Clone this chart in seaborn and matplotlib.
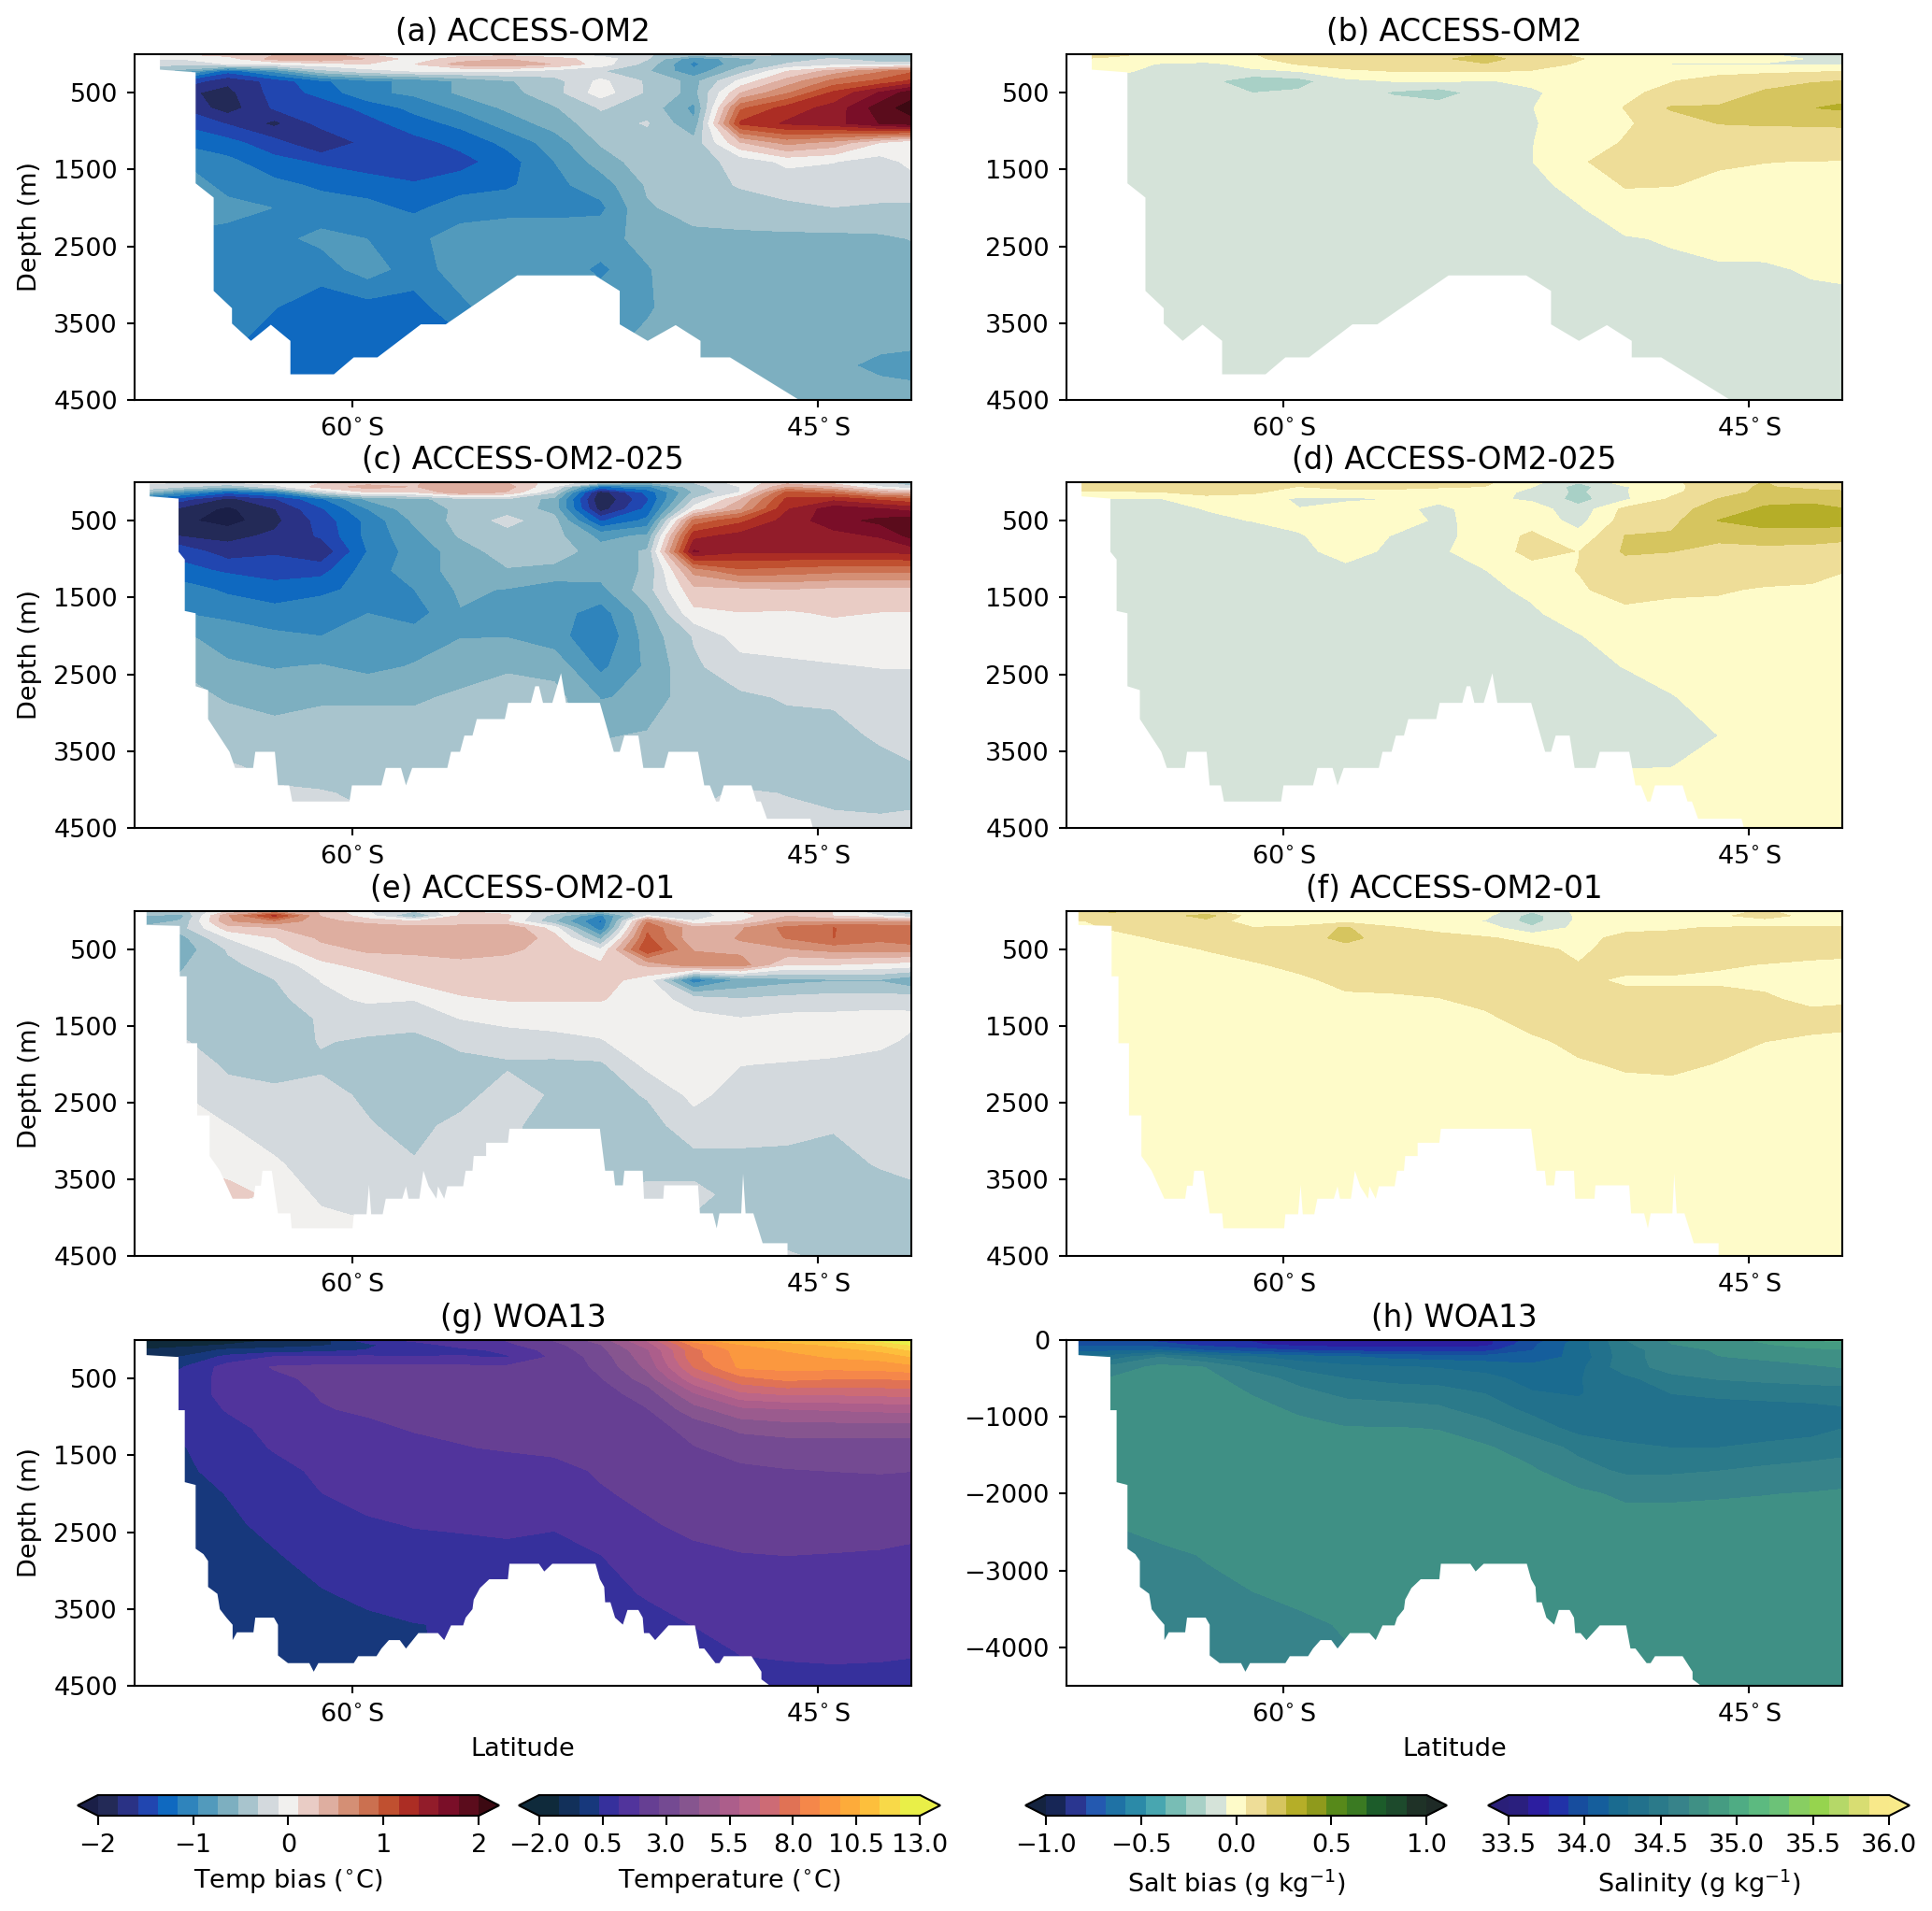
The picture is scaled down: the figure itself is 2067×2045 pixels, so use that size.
import numpy as np
import seaborn as sns
import matplotlib
matplotlib.use("Agg")
import matplotlib.pyplot as plt
from matplotlib.colors import BoundaryNorm, ListedColormap

sns.set_theme(style="ticks", rc={
    "font.family": "DejaVu Sans",
    "text.color": "black",
    "axes.labelcolor": "black",
    "axes.edgecolor": "black",
    "xtick.color": "black",
    "ytick.color": "black",
    "axes.linewidth": 1.5,
    "xtick.major.width": 1.5,
    "ytick.major.width": 1.5,
    "xtick.major.size": 6,
    "ytick.major.size": 6,
    "mathtext.default": "regular",
})

lat_nodes = [-67, -65.5, -64, -62.5, -61, -59.5, -58, -56.5, -55, -53.5, -52, -50.5, -49, -47.5, -46, -44.5, -43, -42]
depth_nodes = [0, 60, 130, 220, 350, 500, 700, 900, 1150, 1400, 1700, 2000, 2400, 2800, 3300, 3700, 4050, 4500]

temp_bias_a = [
    [0, .1, .2, .3, .4, .1, 0, 0, 0, -.1, -.2, -.3, -.4, -.2, -.3, -.4, -.5, -.5],
    [-.1, -.1, 0, .4, .5, .3, 0, .2, .3, .2, 0, -.3, -.9, -.6, -.4, -.3, -.5, -.5],
    [-.2, -.3, -.1, -.1, 0, .1, .1, .4, .5, .3, 0, -.4, -1.0, -.6, -.3, -.2, -.2, -.2],
    [-.4, -.6, -1.3, -.9, -.4, -.2, -.1, -.1, -.1, -.2, -.3, -.5, -.9, -.4, .1, .4, .7, .9],
    [-1.2, -1.4, -1.75, -1.5, -1.2, -1.0, -.9, -.7, -.55, -.4, -.05, -.35, -.6, -.05, .4, .8, 1.0, 1.2],
    [-1.7, -1.75, -1.85, -1.5, -1.3, -1.0, -.9, -.7, -.6, -.4, 0, -.35, -.6, .3, .7, 1.2, 1.6, 1.9],
    [-1.5, -1.6, -1.9, -1.55, -1.5, -1.3, -1.1, -.9, -.7, -.55, -.3, -.4, -.8, .9, 1.25, 1.45, 1.9, 2.1],
    [-1.3, -1.4, -1.6, -1.85, -1.5, -1.45, -1.25, -1.1, -.85, -.65, -.4, -.3, -.7, 1.2, 1.4, 1.5, 1.8, 1.9],
    [-1.1, -1.2, -1.3, -1.5, -1.8, -1.5, -1.45, -1.3, -1.1, -.85, -.5, -.4, -.45, .3, .6, .45, .1, -.1],
    [-.9, -.95, -1.1, -1.3, -1.4, -1.5, -1.5, -1.45, -1.25, -.95, -.65, -.4, -.4, -.25, -.05, -.1, -.2, -.05],
    [-.8, -.85, -1.0, -1.1, -1.2, -1.25, -1.35, -1.25, -1.2, -1.0, -.85, -.5, -.4, -.3, -.25, -.2, -.2, -.2],
    [-.75, -.8, -.9, -.95, -1.05, -1.1, -1.2, -1.05, -1.0, -1.0, -1.0, -.55, -.45, -.4, -.35, -.32, -.35, -.35],
    [-1.0, -1.0, -1.0, -1.0, -.9, -.95, -1.0, -.85, -.85, -.85, -.8, -.68, -.58, -.58, -.58, -.58, -.56, -.52],
    [-1.05, -1.05, -1.05, -1.05, -1.05, -.85, -1.05, -.85, -.85, -.8, -1.0, -.75, -.62, -.6, -.6, -.6, -.6, -.6],
    [-1.1, -1.1, -1.1, -1.15, -1.3, -1.25, -1.25, -1.0, -.8, -.8, -.8, -.76, -.62, -.6, -.6, -.6, -.6, -.6],
    [-1.1, -1.1, -1.1, -1.25, -1.3, -1.3, -1.3, -1.2, -.9, -.8, -.8, -.7, -.62, -.6, -.6, -.62, -.65, -.65],
    [-1.2, -1.2, -1.2, -1.3, -1.3, -1.3, -1.3, -1.2, -.9, -.8, -.8, -.7, -.62, -.6, -.6, -.68, -.8, -.85],
    [-1.2, -1.2, -1.2, -1.3, -1.3, -1.3, -1.3, -1.2, -.9, -.8, -.8, -.7, -.62, -.6, -.6, -.6, -.6, -.6],
]

temp_bias_c = [
    [0, -.1, -.1, 0, .1, .2, .3, .4, .3, 0, -.2, -.5, -.3, 0, .2, 0, -.3, -.4],
    [-.2, -.3, -.5, -.2, .2, .4, .3, .5, .4, -.1, -1.2, -1.0, -.4, -.1, .5, .3, -.1, -.3],
    [-.4, -.9, -1.3, -1.1, -.3, .1, .1, .5, .3, -.3, -1.9, -1.3, -.5, -.1, 1.0, .8, .4, .3],
    [-1.2, -1.5, -1.85, -1.6, -1.2, -.7, -.6, -.4, -.35, -.6, -2.0, -1.4, -.3, .3, 1.2, 1.3, 1.1, 1.0],
    [-1.7, -1.85, -2.05, -1.8, -1.4, -.95, -.6, -.5, -.4, -.6, -1.9, -1.3, 0, .5, 1.35, 1.7, 1.6, 1.5],
    [-1.9, -1.95, -2.1, -1.85, -1.5, -1.1, -.7, -.45, -.25, -.45, -1.4, -1.1, .8, 1.1, 1.45, 1.7, 1.85, 1.9],
    [-1.6, -1.8, -1.85, -1.75, -1.55, -1.1, -.8, -.5, -.4, -.45, -.8, -.7, 1.3, 1.45, 1.4, 1.5, 1.6, 1.85],
    [-1.3, -1.45, -1.7, -1.6, -1.75, -1.15, -.85, -.65, -.4, -.4, -.65, -.5, 1.6, 1.4, 1.4, 1.4, 1.4, 1.45],
    [-1.1, -1.3, -1.4, -1.5, -1.45, -1.05, -.85, -.65, -.55, -.6, -.65, -.5, .6, .9, .85, .8, .8, .8],
    [-.95, -1.05, -1.2, -1.25, -1.2, -1.1, -.95, -.7, -.75, -.85, -.8, -.4, .25, .25, .3, .25, .25, .25],
    [-.85, -.95, -1.0, -1.1, -1.05, -.95, -1.05, -.75, -.75, -.85, -1.05, -.6, .05, .1, .08, .13, .1, .1],
    [-.6, -.7, -.85, -.9, -.95, -.85, -.85, -.75, -.75, -.85, -1.15, -.65, -.3, 0, 0, 0, 0, 0],
    [-.5, -.55, -.7, -.75, -.72, -.8, -.72, -.6, -.55, -.6, -1.0, -.7, -.35, -.2, -.15, -.12, -.1, -.1],
    [-.4, -.45, -.55, -.6, -.55, -.55, -.55, -.5, -.45, -.45, -.75, -.7, -.35, -.35, -.3, -.3, -.2, -.2],
    [-.35, -.33, -.4, -.45, -.45, -.45, -.45, -.42, -.4, -.5, -.55, -.5, -.4, -.38, -.38, -.35, -.3, -.25],
    [-.3, -.3, -.3, -.35, -.42, -.42, -.42, -.4, -.4, -.4, -.4, -.4, -.4, -.4, -.4, -.37, -.35, -.33],
    [-.3, -.3, -.3, -.3, -.3, -.35, -.35, -.35, -.35, -.35, -.35, -.35, -.35, -.3, -.32, -.35, -.37, -.35],
    [-.28, -.28, -.28, -.28, -.28, -.28, -.28, -.28, -.28, -.28, -.28, -.28, -.28, -.28, -.28, -.28, -.28, -.28],
]

temp_bias_e = [
    [-.3, -.4, .1, .5, .3, -.1, -.3, .1, 0, -.2, -.5, -.2, -.2, .1, .3, .1, -.3, -.4],
    [-.5, -.6, .5, 1.2, .3, 0, -.6, .15, .15, -.4, -1.0, -.1, -.2, 0, .3, .1, -.1, -.3],
    [-.7, -.5, .5, .7, .4, .2, .1, .2, .1, -.5, -1.2, .7, -.1, .1, .5, .5, .5, .5],
    [-.5, -.4, .2, .3, .5, .5, .4, .4, .5, 0, -1.1, .9, .4, .5, .8, .95, .9, .85],
    [-.5, -.6, -.1, .1, .35, .4, .45, .5, .52, .2, -.6, 1.0, .35, .55, .75, .95, .8, .9],
    [-.6, -.65, -.3, 0, .25, .35, .35, .42, .35, .25, -.1, 1.15, .5, .45, .5, .6, .6, .6],
    [-.6, -.55, -.35, -.25, .05, .18, .25, .25, .25, .25, .15, .35, .7, .65, .1, .1, .05, 0],
    [-.45, -.5, -.4, -.32, -.1, 0, .15, .2, .2, .2, .2, 0, -1.1, -.7, -.6, -.55, -.55, -.7],
    [-.4, -.45, -.5, -.4, -.15, -.08, -.1, .08, .12, .12, .12, 0, -.2, -.3, -.25, -.22, -.22, -.2],
    [-.3, -.4, -.45, -.5, -.28, -.2, -.2, -.1, -.05, -.05, -.02, 0, -.05, -.1, -.05, -.05, -.02, -.05],
    [-.1, -.3, -.4, -.45, -.3, -.35, -.4, -.25, -.2, -.15, -.12, 0, 0, 0, 0, 0, -.05, -.15],
    [-.05, -.2, -.35, -.38, -.35, -.45, -.45, -.4, -.35, -.37, -.35, -.05, 0, -.1, -.12, -.15, -.2, -.2],
    [.1, -.1, -.25, -.28, -.25, -.35, -.42, -.4, -.2, -.35, -.4, -.3, -.05, -.2, -.2, -.2, -.2, -.2],
    [.1, -.05, -.1, -.2, -.3, -.3, -.38, -.25, -.3, -.35, -.4, -.4, -.2, -.2, -.25, -.3, -.25, -.2],
    [.1, .1, 0, -.08, -.2, -.3, -.3, -.25, -.3, -.35, -.38, -.4, -.4, -.4, -.38, -.38, -.3, -.25],
    [.2, .15, .2, .05, -.15, -.2, -.2, -.2, -.3, -.35, -.35, -.25, -.25, -.4, -.4, -.42, -.4, -.38],
    [.1, .05, 0, 0, -.05, -.1, -.2, -.2, -.3, -.3, -.3, -.3, -.35, -.4, -.4, -.38, -.38, -.38],
    [0, 0, 0, 0, -.05, -.1, -.2, -.2, -.3, -.3, -.3, -.3, -.35, -.4, -.3, -.35, -.35, -.35],
]

temperature_g = [
    [-1.5, -1.5, -1.6, -1.2, -.8, .9, 1.3, 1.6, 2.0, 2.8, 3.9, 6, 9.5, 10.5, 11, 11.5, 12.5, 13.2],
    [-1.5, -1.5, -1.2, -.9, -.6, .2, .9, 1.4, 1.8, 2.5, 3.5, 5.5, 8.5, 9.8, 10.3, 10.8, 11.5, 12.3],
    [-1.2, -.9, -.3, -.1, 0, .4, .6, 1.0, 1.3, 2.3, 3.3, 5, 8, 9.4, 9.9, 10.3, 10.8, 11.5],
    [-.8, -.4, .6, 1.2, 1.3, 1.3, 1.2, 1.2, 1.1, 2.1, 3.1, 4.8, 8, 9.3, 9.6, 9.9, 10.1, 10.6],
    [-.2, .3, 1.5, 2.0, 2.1, 2.1, 2.1, 2.1, 2.1, 2.2, 2.9, 4.5, 7.5, 9.2, 9.3, 9.3, 9.4, 9.6],
    [.3, .7, 1.4, 1.8, 2.1, 2.2, 2.2, 2.2, 2.2, 2.3, 2.7, 3.9, 6.5, 8.0, 8.5, 8.3, 8.3, 8.4],
    [.5, .9, 1.3, 1.6, 2.0, 2.1, 2.2, 2.2, 2.2, 2.2, 2.4, 3.1, 5.0, 6.5, 6.8, 6.8, 6.9, 7.0],
    [.5, .8, 1.2, 1.5, 1.9, 2.05, 2.15, 2.2, 2.2, 2.2, 2.2, 2.7, 4.0, 4.9, 5.1, 5.2, 5.3, 5.4],
    [.3, .5, 1.0, 1.3, 1.6, 1.8, 2.0, 2.05, 2.1, 2.1, 2.2, 2.4, 3.0, 3.7, 3.9, 3.9, 3.9, 3.9],
    [0, .3, .9, 1.2, 1.4, 1.55, 1.75, 1.92, 2.0, 2.05, 2.1, 2.25, 2.7, 3.0, 3.1, 3.1, 3.1, 3.1],
    [-.1, .2, .65, 1.0, 1.25, 1.4, 1.55, 1.65, 1.7, 1.8, 2.0, 2.1, 2.3, 2.6, 2.7, 2.75, 2.8, 2.75],
    [-.2, 0, .4, .85, 1.15, 1.3, 1.4, 1.5, 1.5, 1.6, 1.9, 2.05, 2.2, 2.3, 2.35, 2.35, 2.35, 2.35],
    [-.3, -.2, .2, .6, .95, 1.1, 1.18, 1.2, 1.25, 1.2, 1.5, 1.9, 2.05, 2.1, 2.15, 2.15, 2.15, 2.1],
    [-.4, -.3, 0, .3, .7, .9, 1.0, 1.05, 1.05, 1.0, 1.15, 1.5, 1.85, 1.93, 1.95, 1.93, 1.9, 1.85],
    [-.5, -.4, -.1, .1, .3, .55, .7, .8, .9, .9, 1.0, 1.2, 1.45, 1.6, 1.65, 1.65, 1.62, 1.6],
    [-.5, -.4, -.2, -.1, .1, .2, .35, .42, .8, .8, .9, 1.0, 1.17, 1.3, 1.4, 1.45, 1.45, 1.45],
    [-.5, -.4, -.3, -.2, -.1, .1, .3, .5, .7, .7, .8, .9, 1.0, 1.18, 1.22, 1.25, 1.25, 1.22],
    [-.5, -.4, -.3, -.2, -.1, .1, .3, .5, .7, .7, .8, .9, 1.0, 1.0, 1.0, 1.0, .95, .9],
]

salt_bias_b = [
    [.1, .08, .03, .03, .05, .08, .08, .08, .08, .16, .1, .03, -.03, -.03, -.02, -.05, -.07, -.07],
    [.06, .03, 0, 0, .04, .08, .1, .1, .14, .2, .1, .06, 0, 0, 0, -.02, -.06, -.07],
    [.03, 0, -.06, -.08, -.02, .06, .1, .1, .11, .15, .1, .04, 0, -.06, -.06, -.06, -.07, -.07],
    [.02, -.03, -.08, -.1, -.07, -.05, .03, .055, .06, .06, .045, .02, .01, .02, .03, .03, .04, .05],
    [-.08, -.08, -.1, -.12, -.24, -.2, -.08, -.05, -.04, -.06, -.03, .01, .03, .05, .08, .12, .15, .16],
    [-.1, -.1, -.1, -.1, -.16, -.14, -.09, -.17, -.22, -.1, -.07, 0, .04, .07, .1, .17, .2, .22],
    [-.1, -.1, -.1, -.1, -.1, -.1, -.1, -.1, -.1, -.08, -.055, 0, .055, .17, .17, .2, .26, .28],
    [-.1, -.1, -.1, -.1, -.1, -.1, -.1, -.1, -.08, -.07, -.06, -.01, .04, .1, .16, .165, .165, .165],
    [-.1, -.1, -.1, -.1, -.1, -.1, -.1, -.1, -.1, -.08, -.055, 0, .06, .09, .1, .11, .12, .13],
    [-.1, -.1, -.1, -.1, -.1, -.1, -.1, -.1, -.1, -.1, -.055, .045, .08, .08, .06, .054, .05, .047],
    [-.1, -.1, -.1, -.1, -.1, -.1, -.1, -.1, -.1, -.1, -.08, -.02, .06, .055, .04, .03, .03, .03],
    [-.1, -.1, -.1, -.1, -.1, -.1, -.1, -.1, -.1, -.1, -.09, -.06, .01, .02, .03, .03, .03, .03],
    [-.1, -.1, -.1, -.1, -.1, -.1, -.1, -.1, -.1, -.1, -.1, -.08, -.06, -.045, -.02, 0, .02, .02],
    [-.1, -.1, -.1, -.1, -.1, -.1, -.1, -.1, -.1, -.1, -.1, -.1, -.09, -.07, -.065, -.07, -.04, -.03],
    [-.1, -.1, -.1, -.1, -.1, -.1, -.1, -.1, -.1, -.1, -.1, -.1, -.1, -.1, -.1, -.09, -.09, -.09],
    [-.1, -.1, -.1, -.1, -.1, -.1, -.1, -.1, -.1, -.1, -.1, -.1, -.1, -.1, -.1, -.09, -.09, -.09],
    [-.1, -.1, -.1, -.1, -.1, -.1, -.1, -.1, -.1, -.1, -.1, -.1, -.1, -.1, -.1, -.09, -.09, -.09],
    [-.1, -.1, -.1, -.1, -.1, -.1, -.1, -.1, -.1, -.1, -.1, -.1, -.1, -.1, -.1, -.09, -.09, -.09],
]

salt_bias_d = [
    [.1, .15, .13, .1, .06, .08, .08, .07, .08, .07, -.02, -.15, 0, .03, .12, .16, .03, .03],
    [.08, .1, .14, .12, .08, .05, .08, .07, .06, .05, -.05, -.2, -.06, .02, .12, .17, .12, .1],
    [.05, .04, .05, .08, .07, 0, .02, .03, .02, 0, -.08, -.18, -.06, .03, .12, .18, .2, .18],
    [-.06, -.06, -.06, .02, 0, -.07, -.08, -.05, -.03, -.03, -.07, -.2, -.07, .07, .16, .23, .24, .2],
    [-.08, -.08, -.08, -.05, 0, -.05, .02, -.02, -.08, 0, 0, -.12, .08, .12, .2, .28, .29, .27],
    [-.1, -.09, -.09, -.07, -.05, 0, .05, .03, -.08, -.01, .01, -.09, .1, .13, .265, .32, .32, .32],
    [-.1, -.1, -.1, -.1, -.1, -.07, .05, -.06, -.09, 0, .07, -.02, .16, .17, .18, .2, .19, .18],
    [-.1, -.1, -.1, -.1, -.1, -.09, 0, -.08, -.07, 0, .08, .05, .17, .16, .13, .13, .13, .12],
    [-.1, -.1, -.1, -.1, -.1, -.1, -.09, -.09, -.08, -.055, .02, .055, .11, .1, .1, .09, .08, .055],
    [-.1, -.1, -.1, -.1, -.1, -.1, -.1, -.1, -.1, -.08, -.03, .04, .09, .065, .06, .045, .04, .035],
    [-.1, -.1, -.1, -.1, -.1, -.1, -.1, -.1, -.1, -.1, -.07, .01, .03, .03, .03, .03, .03, .03],
    [-.1, -.1, -.1, -.1, -.1, -.1, -.1, -.1, -.1, -.1, -.09, -.06, .01, .03, .03, .03, .03, .03],
    [-.1, -.1, -.1, -.1, -.1, -.1, -.1, -.1, -.1, -.1, -.1, -.08, -.05, 0, .02, .02, .02, .02],
    [-.1, -.1, -.1, -.1, -.1, -.1, -.1, -.1, -.1, -.1, -.1, -.1, -.09, -.06, 0, .02, .02, .02],
    [-.1, -.1, -.1, -.1, -.1, -.1, -.1, -.1, -.1, -.1, -.1, -.1, -.1, -.08, -.053, .02, .02, .02],
    [-.1, -.1, -.1, -.1, -.1, -.1, -.1, -.1, -.1, -.1, -.1, -.1, -.06, -.055, 0, .02, .02, .02],
    [-.1, -.1, -.1, -.1, -.1, -.1, -.1, -.1, -.1, -.1, -.1, -.1, .01, .02, .02, .02, .02, .02],
    [-.1, -.1, -.1, -.1, -.1, -.1, -.1, -.1, -.1, -.1, -.1, -.1, .02, .02, .02, .02, .02, .02],
]

salt_bias_f = [
    [.12, .18, .05, .06, .03, .03, .03, .03, .02, 0, -.15, -.03, -.03, .02, .03, .06, .02, .02],
    [.08, .1, .1, .2, 0, 0, .02, .03, .02, -.03, -.2, -.03, .02, .02, .04, .08, .03, .03],
    [.04, .07, .08, .13, -.02, -.06, .02, .02, 0, -.06, -.2, -.03, .02, .02, .03, .03, .03, .03],
    [.03, .06, .07, .08, .06, .1, .17, .06, .03, 0, -.14, -.02, .03, .05, .055, .06, .06, .06],
    [.02, .03, .06, .08, .08, .09, .2, .09, .08, .06, .03, .02, .08, .06, .09, .09, .09, .09],
    [.02, .02, .03, .055, .08, .09, .1, .09, .09, .08, .07, .04, .08, .08, .09, .09, .08, .07],
    [.02, .02, .03, .03, .045, .07, .09, .09, .08, .08, .08, .055, .08, .08, .06, .05, .04, .04],
    [.02, .02, .03, .03, .03, .04, .07, .08, .08, .08, .08, .07, .04, .04, .04, .04, .04, .04],
    [.02, .02, .03, .03, .03, .03, .04, .04, .05, .07, .08, .08, .08, .08, .08, .06, .04, .045],
    [.02, .02, .03, .03, .03, .03, .03, .03, .035, .04, .08, .08, .08, .08, .08, .08, .07, .07],
    [.02, .02, .03, .03, .03, .03, .03, .03, .03, .03, .04, .07, .08, .08, .07, .053, .045, .04],
    [.02, .02, .03, .03, .03, .03, .03, .03, .03, .03, .03, .045, .06, .065, .05, .03, .03, .03],
    [.02, .02, .03, .03, .03, .03, .03, .03, .03, .03, .03, .03, .03, .03, .03, .03, .03, .03],
    [.02, .02, .03, .03, .03, .03, .03, .03, .03, .03, .03, .03, .03, .03, .03, .03, .03, .03],
    [.02, .02, .02, .02, .02, .02, .02, .02, .02, .02, .02, .02, .02, .02, .02, .02, .02, .02],
    [.02, .02, .02, .02, .02, .02, .02, .02, .02, .02, .02, .02, .02, .02, .02, .02, .02, .02],
    [.02, .02, .02, .02, .02, .02, .02, .02, .02, .02, .02, .02, .02, .02, .02, .02, .02, .02],
    [.02, .02, .02, .02, .02, .02, .02, .02, .02, .02, .02, .02, .02, .02, .02, .02, .02, .02],
]

salinity_h = [
    [33.95, 33.95, 33.85, 33.8, 33.75, 33.7, 33.68, 33.68, 33.68, 33.72, 33.95, 34.2, 34.55, 34.7, 34.75, 34.85, 34.95, 34.98],
    [34.0, 34.0, 33.95, 33.85, 33.78, 33.72, 33.7, 33.7, 33.7, 33.72, 34.0, 34.22, 34.52, 34.68, 34.72, 34.8, 34.88, 34.9],
    [34.1, 34.12, 34.15, 34.0, 33.95, 33.88, 33.85, 33.82, 33.82, 33.85, 34.02, 34.22, 34.5, 34.62, 34.7, 34.75, 34.78, 34.8],
    [34.3, 34.35, 34.55, 34.4, 34.3, 34.22, 34.18, 34.12, 34.1, 34.08, 34.08, 34.2, 34.5, 34.62, 34.68, 34.7, 34.73, 34.75],
    [34.55, 34.6, 34.72, 34.68, 34.5, 34.38, 34.32, 34.3, 34.28, 34.25, 34.2, 34.25, 34.5, 34.6, 34.63, 34.65, 34.67, 34.69],
    [34.65, 34.7, 34.73, 34.72, 34.62, 34.5, 34.42, 34.38, 34.35, 34.32, 34.25, 34.28, 34.38, 34.52, 34.56, 34.58, 34.6, 34.6],
    [34.7, 34.72, 34.74, 34.73, 34.68, 34.6, 34.52, 34.5, 34.5, 34.42, 34.3, 34.28, 34.36, 34.42, 34.45, 34.47, 34.48, 34.5],
    [34.7, 34.72, 34.74, 34.74, 34.71, 34.67, 34.62, 34.6, 34.57, 34.5, 34.38, 34.33, 34.33, 34.33, 34.35, 34.36, 34.38, 34.4],
    [34.7, 34.72, 34.74, 34.74, 34.73, 34.71, 34.69, 34.69, 34.68, 34.6, 34.5, 34.37, 34.37, 34.36, 34.35, 34.35, 34.37, 34.42],
    [34.67, 34.72, 34.74, 34.74, 34.74, 34.74, 34.74, 34.73, 34.72, 34.7, 34.62, 34.52, 34.44, 34.42, 34.42, 34.45, 34.48, 34.5],
    [34.66, 34.7, 34.74, 34.74, 34.74, 34.74, 34.74, 34.74, 34.74, 34.73, 34.7, 34.6, 34.53, 34.53, 34.55, 34.58, 34.6, 34.62],
    [34.62, 34.69, 34.72, 34.74, 34.74, 34.74, 34.74, 34.74, 34.74, 34.74, 34.73, 34.71, 34.66, 34.66, 34.67, 34.68, 34.69, 34.7],
    [34.62, 34.686, 34.72, 34.74, 34.74, 34.74, 34.74, 34.74, 34.74, 34.74, 34.74, 34.74, 34.74, 34.74, 34.74, 34.74, 34.74, 34.74],
    [34.62, 34.63, 34.66, 34.69, 34.72, 34.74, 34.74, 34.74, 34.74, 34.74, 34.74, 34.74, 34.74, 34.74, 34.74, 34.74, 34.74, 34.74],
    [34.62, 34.63, 34.65, 34.66, 34.682, 34.7, 34.72, 34.74, 34.74, 34.74, 34.74, 34.74, 34.74, 34.74, 34.74, 34.74, 34.74, 34.74],
    [34.63, 34.64, 34.65, 34.66, 34.66, 34.67, 34.69, 34.72, 34.74, 34.74, 34.74, 34.74, 34.74, 34.74, 34.74, 34.74, 34.74, 34.74],
    [34.63, 34.64, 34.65, 34.66, 34.66, 34.67, 34.68, 34.72, 34.74, 34.74, 34.74, 34.74, 34.74, 34.74, 34.74, 34.74, 34.74, 34.74],
    [34.63, 34.64, 34.65, 34.66, 34.66, 34.67, 34.68, 34.72, 34.74, 34.74, 34.74, 34.74, 34.74, 34.74, 34.74, 34.74, 34.74, 34.74],
]

# sea floor, one outline per model resolution
bathy_1deg_lat = [-67, -66.2, -66.2, -65.05, -65.05, -64.47, -64.47, -63.88, -63.88, -63.27, -62.63, -62, -62, -60.6, -59.96, -59.2, -57.8, -57, -54.7, -52.2, -51.4, -51.4, -50.5, -49.6, -48.8, -48.8, -47.85, -45.6, -42]
bathy_1deg_z = [0, 0, 195, 230, 1675, 1860, 3075, 3300, 3500, 3725, 3515, 3725, 4160, 4160, 3940, 3940, 3510, 3510, 2873, 2873, 3075, 3510, 3725, 3520, 3725, 3940, 3940, 4500, 4500]

bathy_025_lat = [-67, -66.53, -66.53, -65.6, -65.6, -65.4, -65.4, -65.05, -65.05, -64.65, -64.65, -63.96, -63.78, -63.2, -63.13, -62.5, -62.4, -62.04, -61.94, -60.1, -60.02, -59.07, -58.93, -58.44, -58.28, -58.08, -56.95, -56.83, -56.54, -56.4, -56.14, -56, -55.1, -54.99, -54.26, -54.12, -54, -53.87, -53.57, -53.29, -53.13, -52.04, -51.59, -51.4, -51.25, -50.8, -50.64, -49.97, -49.83, -48.88, -48.68, -48.5, -48.3, -48.2, -48.05, -47.16, -47, -46.86, -46.66, -45.26, -45.18, -42]
bathy_025_z = [0, 0, 178, 207, 900, 1000, 1670, 1700, 2650, 2700, 3077, 3503, 3713, 3713, 3503, 3503, 3940, 3940, 4150, 4150, 3940, 3940, 3713, 3713, 3940, 3713, 3713, 3503, 3503, 3292, 3292, 3077, 3077, 2866, 2866, 2650, 2650, 2866, 2866, 2480, 2866, 2866, 3503, 3503, 3292, 3292, 3713, 3713, 3503, 3503, 3940, 3940, 4150, 4150, 3940, 3940, 4150, 4150, 4375, 4375, 4500, 4500]

bathy_01_lat = [-67, -66.63, -66.63, -65.56, -65.56, -65.34, -65.34, -65, -65, -64.6, -64.6, -64.27, -63.86, -63.19, -63.13, -62.95, -62.9, -62.6, -62.4, -62, -61.96, -60, -59.96, -59.55, -59.47, -59.4, -59.03, -58.93, -58.4, -58.28, -58.2, -57.85, -57.72, -57.55, -57.3, -57.25, -57.05, -56.95, -56.44, -56.36, -56.14, -56.1, -55.7, -55.7, -55, -54.95, -52.04, -51.87, -51.6, -51.55, -51.3, -51.25, -50.66, -50.62, -50, -49.97, -48.88, -48.82, -48.4, -48.28, -48.19, -47.49, -47.43, -47.35, -47.1, -46.8, -46, -46, -42]
bathy_01_z = [0, 0, 175, 187, 845, 845, 1718, 1718, 2660, 2660, 3190, 3382, 3747, 3747, 3577, 3577, 3382, 3382, 3938, 3938, 4133, 4133, 3950, 3950, 3565, 3950, 3950, 3747, 3747, 3585, 3747, 3747, 3382, 3585, 3747, 3585, 3747, 3585, 3585, 3382, 3382, 3190, 3190, 3017, 3017, 2834, 2834, 3382, 3382, 3573, 3573, 3382, 3382, 3747, 3747, 3573, 3573, 3938, 3938, 4133, 3938, 3938, 3420, 3938, 3938, 4328, 4328, 4500, 4500]

bathy_woa_lat = [-67, -66.63, -66.63, -65.6, -65.6, -65.4, -65.4, -65.05, -65.05, -64.8, -64.65, -64.65, -64.35, -64.27, -64.06, -63.86, -63.86, -63.72, -63.19, -63.13, -62.53, -62.4, -62.4, -62.08, -61.39, -61.25, -61.1, -59.96, -59.82, -59.23, -59.07, -58.83, -58.48, -58.28, -57.88, -57.25, -57.05, -56.83, -56.44, -56.36, -56.14, -56.1, -55.9, -55.6, -55, -54.95, -54, -53.83, -53.57, -52.18, -52.04, -51.9, -51.87, -51.7, -51.55, -51.3, -51.15, -50.8, -50.66, -50.62, -50.45, -50.26, -49.83, -48.98, -48.84, -48.68, -48.32, -48.19, -48.05, -47.16, -46.84, -46.84, -46.54, -42]
bathy_woa_z = [0, 0, 190, 215, 907, 907, 1844, 1880, 2710, 2780, 2870, 3207, 3297, 3497, 3607, 3700, 3900, 3798, 3798, 3607, 3607, 3700, 4099, 4199, 4199, 4310, 4199, 4199, 4109, 4109, 4009, 3899, 3899, 4009, 3808, 3808, 3899, 3708, 3708, 3607, 3497, 3372, 3222, 3107, 3107, 2906, 2906, 3006, 2906, 2906, 3107, 3207, 3407, 3407, 3607, 3698, 3507, 3507, 3607, 3808, 3808, 3899, 3708, 3708, 4009, 4009, 4199, 4199, 4109, 4109, 4310, 4410, 4500, 4500]

balance_hex = ["#232a57", "#2a3285", "#2146b0", "#0f69c0", "#2f84bc", "#529abc", "#7dafc0", "#a8c4cd", "#d3d9dd", "#f1f0ee",
               "#e9ccc5", "#deaea0", "#d48f75", "#cb7050", "#c05030", "#ac2d24", "#921c2a", "#7a0e28", "#5b0c1c"]
thermal_hex = ["#0f2a3b", "#12305a", "#17387c", "#36309c", "#51349c", "#663f93", "#744a92", "#86558f", "#9b5b8e", "#ac5e8b",
               "#bc6688", "#cd6b75", "#e07255", "#f5874a", "#fb983f", "#fdab3a", "#fdbf3c", "#f8d948", "#e9ef48"]
delta_hex = ["#172656", "#2a3690", "#2459b0", "#1f72a5", "#2b8aa8", "#48a6b0", "#78bdb5", "#a8d0c6", "#d5e3d9", "#fefbc9",
             "#eedd98", "#d6c55f", "#b5ae28", "#8f9a1c", "#57891a", "#3a7a22", "#1c5c2a", "#1d4a2c", "#1f3227"]
haline_hex = ["#2a1f7e", "#2c1ea0", "#2132a8", "#174d9e", "#155e9c", "#1a6b90", "#22718c", "#2b7a8a", "#37838a", "#3f9085",
              "#459c82", "#4fac84", "#5cba80", "#6cc278", "#88ce62", "#96d44e", "#b5d868", "#d8dd72", "#f8e98a"]

W, H = 2067, 2045
row_tops = [58, 516, 975, 1434]
row_heights = [370, 370, 369, 370]
TEXT_SIZE = 19.5


def make_scale(hexes, vmin, vmax, under, over):
    """Colormap and norm with 19 filled bands."""
    levels = np.linspace(vmin, vmax, 20)
    cmap = ListedColormap(sns.color_palette(hexes))
    cmap.set_under(under)
    cmap.set_over(over)
    return levels, cmap, BoundaryNorm(levels, 19)


def px_axes(fig, left, top, width, height):
    return fig.add_axes([left / W, 1 - (top + height) / H, width / W, height / H])


def draw_section(ax, field, scale, bathy_lat, bathy_z, title, negative=False):
    levels, cmap, norm = scale
    sign = -1 if negative else 1
    cf = ax.contourf(lat_nodes, sign * np.array(depth_nodes), np.array(field), levels=levels,
                     cmap=cmap, norm=norm, extend="both", zorder=1)
    ax.fill_between(bathy_lat, sign * np.array(bathy_z), sign * 4600, color="white", lw=0, zorder=2)
    ax.set_xlim(-67, -42)
    if negative:
        ax.set_ylim(-4500, 0)
        ax.set_yticks([0, -1000, -2000, -3000, -4000])
    else:
        ax.set_ylim(4500, 0)
        ax.set_yticks([500, 1500, 2500, 3500, 4500])
    ax.set_xticks([-60, -45])
    ax.set_xticklabels(["60$^{\\circ}\\,$S", "45$^{\\circ}\\,$S"])
    ax.tick_params(labelsize=TEXT_SIZE, pad=7)
    ax.set_title(title, fontsize=23.5, pad=10)
    return cf


def draw_colorbar(fig, cf, left, label, ticks, ticklabels):
    # the axes holds the bar and both end triangles
    cax = px_axes(fig, left, 1921, 451, 22)
    cb = fig.colorbar(cf, cax=cax, orientation="horizontal", extend="both", extendfrac=0.053)
    cb.set_ticks(ticks, labels=ticklabels)
    cb.minorticks_off()
    cb.ax.tick_params(labelsize=TEXT_SIZE, pad=7, length=7)
    cb.set_label(label, fontsize=TEXT_SIZE, labelpad=7)
    cb.outline.set_linewidth(1.5)


fig = plt.figure(figsize=(W / 100, H / 100), dpi=100)

temp_bias_scale = make_scale(balance_hex, -2, 2, "#1a1f47", "#3c0912")
temp_scale = make_scale(thermal_hex, -2, 13, "#0f2a3b", "#e9ef48")
salt_bias_scale = make_scale(delta_hex, -1, 1, "#14233f", "#1e2a26")
salinity_scale = make_scale(haline_hex, 33.5, 36, "#2a1f78", "#f8ea8a")

left_panels = [
    (temp_bias_a, temp_bias_scale, bathy_1deg_lat, bathy_1deg_z, "(a) ACCESS-OM2"),
    (temp_bias_c, temp_bias_scale, bathy_025_lat, bathy_025_z, "(c) ACCESS-OM2-025"),
    (temp_bias_e, temp_bias_scale, bathy_01_lat, bathy_01_z, "(e) ACCESS-OM2-01"),
    (temperature_g, temp_scale, bathy_woa_lat, bathy_woa_z, "(g) WOA13"),
]
right_panels = [
    (salt_bias_b, salt_bias_scale, bathy_1deg_lat, bathy_1deg_z, "(b) ACCESS-OM2"),
    (salt_bias_d, salt_bias_scale, bathy_025_lat, bathy_025_z, "(d) ACCESS-OM2-025"),
    (salt_bias_f, salt_bias_scale, bathy_01_lat, bathy_01_z, "(f) ACCESS-OM2-01"),
    (salinity_h, salinity_scale, bathy_woa_lat, bathy_woa_z, "(h) WOA13"),
]

left_sets = []
for i, panel in enumerate(left_panels):
    ax = px_axes(fig, 144, row_tops[i], 831, row_heights[i])
    left_sets.append(draw_section(ax, *panel))
    ax.set_ylabel("Depth (m)", fontsize=TEXT_SIZE, labelpad=9)
    if i == 3:
        ax.set_xlabel("Latitude", fontsize=TEXT_SIZE, labelpad=8)

right_sets = []
for i, panel in enumerate(right_panels):
    ax = px_axes(fig, 1141, row_tops[i], 830, row_heights[i])
    right_sets.append(draw_section(ax, *panel, negative=(i == 3)))
    if i == 3:
        ax.set_xlabel("Latitude", fontsize=TEXT_SIZE, labelpad=8)

draw_colorbar(fig, left_sets[0], 83, "Temp bias ($^{\\circ}$C)",
              [-2, -1, 0, 1, 2], ["\u22122", "\u22121", "0", "1", "2"])
draw_colorbar(fig, left_sets[3], 555, "Temperature ($^{\\circ}$C)",
              [-2, 0.5, 3, 5.5, 8, 10.5, 13], ["\u22122.0", "0.5", "3.0", "5.5", "8.0", "10.5", "13.0"])
draw_colorbar(fig, right_sets[0], 1097, "Salt bias (g kg$^{-1}$)",
              [-1, -0.5, 0, 0.5, 1], ["\u22121.0", "\u22120.5", "0.0", "0.5", "1.0"])
draw_colorbar(fig, right_sets[3], 1592, "Salinity (g kg$^{-1}$)",
              [33.5, 34, 34.5, 35, 35.5, 36], ["33.5", "34.0", "34.5", "35.0", "35.5", "36.0"])

fig.savefig("out.png", dpi=100, facecolor="white")
plt.close(fig)
